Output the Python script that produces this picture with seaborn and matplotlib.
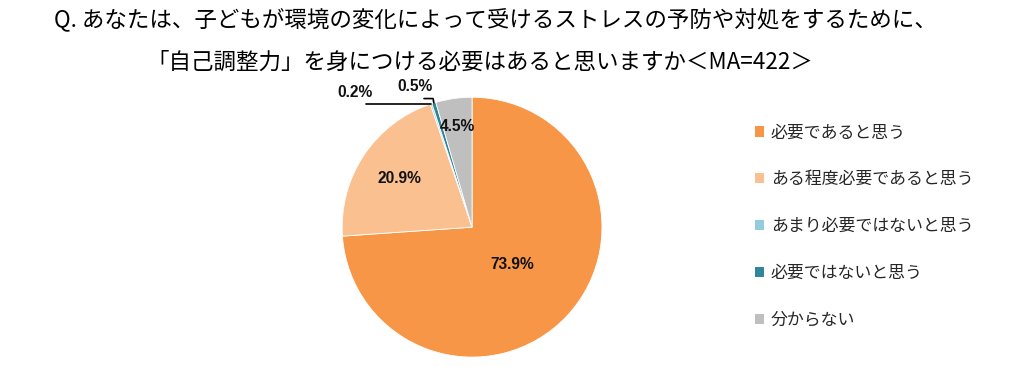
import numpy as np
import matplotlib
matplotlib.use("Agg")
import matplotlib.pyplot as plt
import seaborn as sns
from matplotlib.patches import Patch

# data
categories = ["必要であると思う", "ある程度必要であると思う", "あまり必要ではないと思う",
              "必要ではないと思う", "分からない"]
values = [73.9, 20.9, 0.2, 0.5, 4.5]
colors = ["#F79646", "#FAC090", "#93CDDD", "#31859C", "#BFBFBF"]
title1 = "Q. あなたは、子どもが環境の変化によって受けるストレスの予防や対処をするために、"
title2 = "「自己調整力」を身につける必要はあると思いますか＜MA=422＞"

sns.set_theme(style="white")
plt.rcParams['font.family'] = ['Noto Sans CJK JP', 'DejaVu Sans']

fig = plt.figure(figsize=(10.24, 3.67), dpi=100)
ax = fig.add_axes([0.334, 0.027, 0.254, 0.708])

wedges, _ = ax.pie(values, colors=colors, startangle=90, counterclock=False,
                   wedgeprops=dict(edgecolor="white", linewidth=0.6))
ax.set_xlim(-1, 1)
ax.set_ylim(-1, 1)
ax.set_aspect("equal")

def mid_dir(w):
    a = np.deg2rad((w.theta1 + w.theta2) / 2)
    return np.cos(a), np.sin(a)

lab_font = dict(family=['Liberation Sans', 'DejaVu Sans'], fontsize=11.2,
                fontweight="bold", color="#111111", ha="center", va="center")

# inside labels
for i, r in [(0, 0.42), (1, 0.67), (4, 0.78)]:
    cx, cy = mid_dir(wedges[i])
    ax.text(cx * r, cy * r, f"{values[i]}%", **lab_font)

# small slices with leader lines
ex, ey = mid_dir(wedges[2])
ax.text(-0.90, 1.04, f"{values[2]}%", **lab_font)
ax.plot([-0.82, ex, ex], [ey, ey, ey], color="black", lw=1.2, clip_on=False)
ex, ey = mid_dir(wedges[3])
ax.text(-0.44, 1.08, f"{values[3]}%", **lab_font)
ax.plot([-0.37, -0.30, ex], [0.99, 0.99, ey], color="black", lw=1.2, clip_on=False)

fig.text(0.484, 0.945, title1, ha="center", va="center", fontsize=16.2, color="black")
fig.text(0.469, 0.830, title2, ha="center", va="center", fontsize=16.2, color="black")

handles = [Patch(facecolor=c, edgecolor="none") for c in colors]
fig.legend(handles, categories, loc="upper left", bbox_to_anchor=(0.722, 0.705),
           frameon=False, fontsize=12.2, handlelength=0.55, handleheight=0.55,
           handletextpad=0.4, labelspacing=1.7)

fig.savefig("out.png", dpi=100)
